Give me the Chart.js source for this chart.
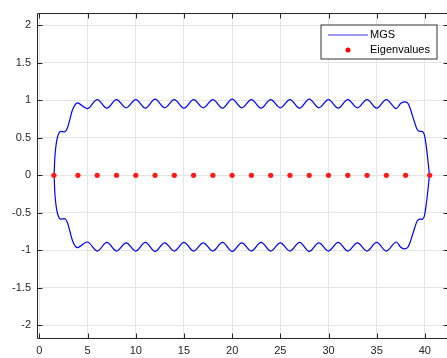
<!DOCTYPE html>
<html>
<head>
<meta charset="utf-8">
<script src="https://cdn.jsdelivr.net/npm/chart.js@4.4.1/dist/chart.umd.min.js"></script>
<style>
  html, body { margin: 0; padding: 0; background: #fff; overflow: hidden; }
  #wrap { width: 452px; height: 358px; position: relative; }
</style>
</head>
<body>
<div id="wrap"><canvas id="chart"></canvas></div>
<script>
// eigenvalues (all on the real axis)
const eigX = [1.5, 4, 6, 8, 10, 12, 14, 16, 18, 20, 22, 24, 26, 28, 30, 32, 34, 36, 38, 40.5];
const eigY = [0, 0, 0, 0, 0, 0, 0, 0, 0, 0, 0, 0, 0, 0, 0, 0, 0, 0, 0, 0];

// MGS boundary, upper half (left -> right)
const upperX = [1.53, 1.57, 1.64, 1.78, 1.98, 2.2, 2.65, 2.9, 3.15, 3.4, 3.7, 4,
  5, 6, 7, 8, 9, 10, 11, 12, 13, 14, 15, 16, 17, 18, 19, 20, 21, 22, 23, 24, 25,
  26, 27, 28, 29, 30, 31, 32, 33, 34, 35, 36, 37,
  37.5, 37.85, 38.2, 38.45, 38.7, 38.95, 39.2, 39.45, 39.75, 39.95, 40.15, 40.33, 40.45];
const upperY = [0, 0.15, 0.3, 0.45, 0.55, 0.585, 0.58, 0.63, 0.74, 0.86, 0.94, 0.965,
  0.89, 1.01, 0.895, 1.01, 0.9, 1.01, 0.895, 1.015, 0.9, 1.01, 0.895, 1.01, 0.9, 1.01, 0.895, 1.015, 0.9,
  1.01, 0.895, 1.01, 0.9, 1.01, 0.895, 1.015, 0.9, 1.01, 0.895, 1.01, 0.9, 1.01, 0.895, 1.01, 0.89,
  0.96, 0.98, 0.965, 0.9, 0.8, 0.7, 0.61, 0.585, 0.585, 0.54, 0.38, 0.18, 0];

// MGS boundary, lower half (right -> left)
const lowerX = [40.33, 40.15, 39.95, 39.75, 39.45, 39.2, 38.95, 38.7, 38.45, 38.2, 37.85, 37.5,
  37, 36, 35, 34, 33, 32, 31, 30, 29, 28, 27, 26, 25, 24, 23, 22, 21, 20, 19, 18, 17,
  16, 15, 14, 13, 12, 11, 10, 9, 8, 7, 6, 5,
  4, 3.7, 3.4, 3.15, 2.9, 2.65, 2.2, 1.98, 1.78, 1.64, 1.57, 1.53];
const lowerY = [-0.18, -0.38, -0.54, -0.585, -0.585, -0.61, -0.7, -0.8, -0.9, -0.965, -0.98, -0.96,
  -0.89, -1.01, -0.895, -1.01, -0.9, -1.01, -0.895, -1.01, -0.9, -1.015, -0.895, -1.01, -0.9, -1.01, -0.895,
  -1.01, -0.9, -1.015, -0.895, -1.01, -0.9, -1.01, -0.895, -1.01, -0.9, -1.015, -0.895, -1.01, -0.9, -1.01,
  -0.895, -1.01, -0.89,
  -0.965, -0.94, -0.86, -0.74, -0.63, -0.58, -0.585, -0.55, -0.45, -0.3, -0.15, 0];

const seriesNames = ["MGS", "Eigenvalues"];

const curve = upperX.map((x, i) => ({ x: x, y: upperY[i] }))
  .concat(lowerX.map((x, i) => ({ x: x, y: lowerY[i] })));
const eigs = eigX.map((x, i) => ({ x: x, y: eigY[i] }));

const axisColor = "#262626";

// matlab-like box, inward ticks and legend
const matlabBox = {
  id: "matlabBox",
  afterDatasetsDraw(chart) {
    const ctx = chart.ctx;
    const a = chart.chartArea;
    const xs = chart.scales.x;
    const ys = chart.scales.y;
    const L = Math.round(a.left) + 0.5, R = Math.round(a.right) + 0.5;
    const T = Math.round(a.top) + 0.5, B = Math.round(a.bottom) + 0.5;
    ctx.save();
    ctx.strokeStyle = axisColor;
    ctx.lineWidth = 1;
    ctx.beginPath();
    ctx.moveTo(L, T); ctx.lineTo(R, T); ctx.lineTo(R, B); ctx.lineTo(L, B); ctx.closePath();
    xs.ticks.forEach(t => {
      const p = Math.round(xs.getPixelForValue(t.value)) + 0.5;
      ctx.moveTo(p, B); ctx.lineTo(p, B - 5);
      ctx.moveTo(p, T); ctx.lineTo(p, T + 5);
    });
    ys.ticks.forEach(t => {
      const p = Math.round(ys.getPixelForValue(t.value)) + 0.5;
      ctx.moveTo(L, p); ctx.lineTo(L + 5, p);
      ctx.moveTo(R, p); ctx.lineTo(R - 5, p);
    });
    ctx.stroke();

    // legend box
    const bx = R - 127.5, by = T + 11.5, bw = 116, bh = 34;
    ctx.fillStyle = "#fff";
    ctx.fillRect(bx, by, bw, bh);
    ctx.strokeStyle = "#333";
    ctx.strokeRect(bx, by, bw, bh);
    ctx.strokeStyle = "#3333ff";
    ctx.lineWidth = 1;
    ctx.beginPath();
    ctx.moveTo(bx + 7, by + 10);
    ctx.lineTo(bx + 47, by + 10);
    ctx.stroke();
    ctx.fillStyle = "#ff0000";
    ctx.beginPath();
    ctx.arc(bx + 27, by + 25, 2.5, 0, Math.PI * 2);
    ctx.fill();
    ctx.fillStyle = "#000";
    ctx.font = "11px 'Liberation Sans', Arial, sans-serif";
    ctx.textBaseline = "middle";
    ctx.textAlign = "left";
    ctx.fillText(seriesNames[0], bx + 49, by + 10);
    ctx.fillText(seriesNames[1], bx + 49, by + 25);
    ctx.restore();
  }
};

Chart.defaults.font.family = "'Liberation Sans', Arial, sans-serif";
Chart.defaults.font.size = 11;
Chart.defaults.color = axisColor;

new Chart(document.getElementById("chart"), {
  type: "scatter",
  data: {
    datasets: [
      {
        label: seriesNames[1],
        data: eigs,
        backgroundColor: "#ff1a1a",
        borderWidth: 0,
        pointRadius: 2.6,
        order: 0
      },
      {
        label: seriesNames[0],
        data: curve,
        showLine: true,
        tension: 0.35,
        borderColor: "#0000ff",
        borderWidth: 1.2,
        pointRadius: 0,
        fill: false,
        order: 1
      }
    ]
  },
  options: {
    responsive: true,
    maintainAspectRatio: false,
    animation: false,
    layout: { padding: { left: 0, top: 11, right: 3.5, bottom: 0 } },
    plugins: { legend: { display: false }, tooltip: { enabled: false } },
    scales: {
      x: {
        type: "linear",
        min: -0.25,
        max: 42.4,
        ticks: { stepSize: 5, includeBounds: false, padding: 6, autoSkip: false, maxRotation: 0 },
        grid: { color: "#e5e5e5", drawTicks: false },
        border: { display: false },
        afterFit(s) { s.height = 20; }
      },
      y: {
        min: -2.17,
        max: 2.17,
        ticks: {
          stepSize: 0.5,
          includeBounds: false,
          padding: 6,
          callback: v => String(Math.round(v * 100) / 100)
        },
        grid: { color: "#e5e5e5", drawTicks: false },
        border: { display: false },
        afterFit(s) { s.width = 37; }
      }
    }
  },
  plugins: [matlabBox]
});
</script>
</body>
</html>
